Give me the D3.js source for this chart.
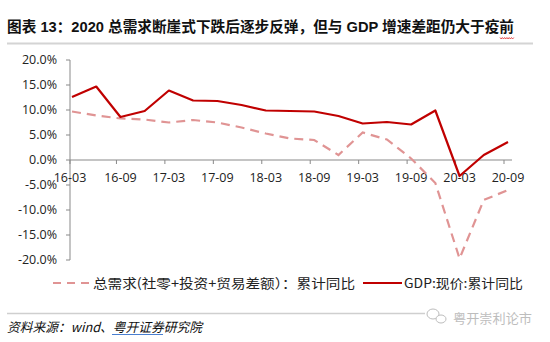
<!DOCTYPE html>
<html><head><meta charset="utf-8">
<script src="https://cdn.jsdelivr.net/npm/d3@7"></script>
<style>
body{margin:0;background:#fff;}
svg{display:block;}
</style></head>
<body><svg id="c" width="550" height="342"></svg>
<script>
const quarters = ["16-03","16-06","16-09","16-12","17-03","17-06","17-09","17-12","18-03","18-06","18-09","18-12","19-03","19-06","19-09","19-12","20-03","20-06","20-09"];
const demand = [9.7,8.9,8.3,8.1,7.5,8.0,7.5,6.5,5.3,4.3,4.0,1.0,5.5,4.1,0.3,-4.6,-19.7,-8.0,-6.0];
const gdp = [12.6,14.7,8.6,9.8,13.9,11.9,11.8,11.0,9.9,9.8,9.7,8.8,7.3,7.6,7.1,9.9,-3.2,1.0,3.6];
const xTickLabels = ["16-03","16-09","17-03","17-09","18-03","18-09","19-03","19-09","20-03","20-09"];
const yTicks = [20,15,10,5,0,-5,-10,-15,-20];
const seriesNames = ["总需求(社零+投资+贸易差额）：累计同比","GDP:现价:累计同比"];

const svg = d3.select("#c");
const axisFont = "'Open Sans', 'Noto Sans CJK SC', sans-serif";
const cjk = "'Noto Sans CJK SC', 'Liberation Sans', sans-serif";

// Title
svg.append("text").attr("x",7).attr("y",32)
  .attr("font-family","'Liberation Sans', 'Noto Sans CJK SC', sans-serif")
  .attr("font-weight","bold").attr("font-size",14.5).attr("fill","#111")
  .attr("textLength",507).attr("lengthAdjust","spacingAndGlyphs")
  .text("图表 13：2020 总需求断崖式下跌后逐步反弹，但与 GDP 增速差距仍大于疫前");
svg.append("path").attr("d",(()=>{let p="M500,37.5";for(let i=0;i<6;i++){p+=` l1.15,1.5 l1.15,-1.5`;}return p;})())
  .attr("fill","none").attr("stroke","#e03030").attr("stroke-width",0.8);
svg.append("line").attr("x1",7).attr("x2",533).attr("y1",43.5).attr("y2",43.5)
  .attr("stroke","#d4d4d4").attr("stroke-width",2);

const x = d3.scalePoint().domain(quarters).range([72,508]);
const y = d3.scaleLinear().domain([-20,20]).range([260,60]);

// Y axis
const g = svg.append("g");
g.append("line").attr("x1",70).attr("x2",70).attr("y1",y(20)).attr("y2",y(-20))
  .attr("stroke","#898989").attr("stroke-width",1);
yTicks.forEach(t=>{
  g.append("line").attr("x1",66).attr("x2",70).attr("y1",y(t)).attr("y2",y(t))
    .attr("stroke","#898989");
  g.append("text").attr("x",57).attr("y",y(t)).attr("dy","0.35em")
    .attr("text-anchor","end").attr("font-family",axisFont).attr("font-size",12.5)
    .attr("fill","#222").text(t.toFixed(1)+"%");
});
// X axis at 0
g.append("line").attr("x1",70).attr("x2",512).attr("y1",y(0)).attr("y2",y(0))
  .attr("stroke","#898989").attr("stroke-width",1);
xTickLabels.forEach((t,i)=>{
  const px = x(t) - (i===0?2:4);
  g.append("line").attr("x1",px).attr("x2",px).attr("y1",y(0)).attr("y2",y(0)+4).attr("stroke","#898989");
  g.append("text").attr("x",x(t)+(i===0?-2:0)).attr("y",y(0)+18).attr("dy","0.35em")
    .attr("text-anchor","middle").attr("font-family",axisFont).attr("font-size",12.5)
    .attr("fill","#222").text(t);
});

const line = d3.line().x((d,i)=>x(quarters[i])).y(d=>y(d));
svg.append("path").datum(demand).attr("d",line).attr("fill","none")
  .attr("stroke","#e09494").attr("stroke-width",2.2).attr("stroke-dasharray","9,6");
svg.append("path").datum(gdp).attr("d",line).attr("fill","none")
  .attr("stroke","#c00000").attr("stroke-width",2.2).attr("stroke-linejoin","round");

// Legend
svg.append("line").attr("x1",53).attr("x2",90).attr("y1",283).attr("y2",283)
  .attr("stroke","#e09494").attr("stroke-width",2.2).attr("stroke-dasharray","8,6");
svg.append("text").attr("x",93).attr("y",283).attr("dy","0.35em")
  .attr("font-family",cjk).attr("font-size",13).attr("fill","#222")
  .attr("textLength",262).attr("lengthAdjust","spacingAndGlyphs").text(seriesNames[0]);
svg.append("line").attr("x1",363).attr("x2",402).attr("y1",283).attr("y2",283)
  .attr("stroke","#c00000").attr("stroke-width",2.2);
svg.append("text").attr("x",404).attr("y",283).attr("dy","0.35em")
  .attr("font-family",cjk).attr("font-size",13).attr("fill","#222")
  .attr("textLength",119).attr("lengthAdjust","spacingAndGlyphs").text(seriesNames[1]);

// Bottom
svg.append("line").attr("x1",7).attr("x2",425).attr("y1",313.5).attr("y2",313.5)
  .attr("stroke","#cfcfcf").attr("stroke-width",1.5);
svg.append("text").attr("x",7).attr("y",332)
  .attr("font-family",cjk).attr("font-style","italic").attr("font-size",13).attr("fill","#111")
  .attr("textLength",195).attr("lengthAdjust","spacingAndGlyphs")
  .text("资料来源：wind、粤开证券研究院");
svg.append("line").attr("x1",112).attr("x2",163).attr("y1",334.5).attr("y2",334.5)
  .attr("stroke","#4a7fd0").attr("stroke-width",1);
// watermark
const wm = svg.append("g").attr("opacity",0.55);
wm.append("ellipse").attr("cx",433).attr("cy",314).attr("rx",6).attr("ry",5).attr("fill","none").attr("stroke","#888").attr("stroke-width",1);
wm.append("ellipse").attr("cx",441).attr("cy",319).attr("rx",5).attr("ry",4).attr("fill","#fff").attr("stroke","#888").attr("stroke-width",1);
wm.append("text").attr("x",453).attr("y",318).attr("dy","0.35em")
  .attr("font-family",cjk).attr("font-size",13).attr("fill","#888")
  .attr("textLength",79).attr("lengthAdjust","spacingAndGlyphs").text("粤开崇利论市");
</script></body></html>
